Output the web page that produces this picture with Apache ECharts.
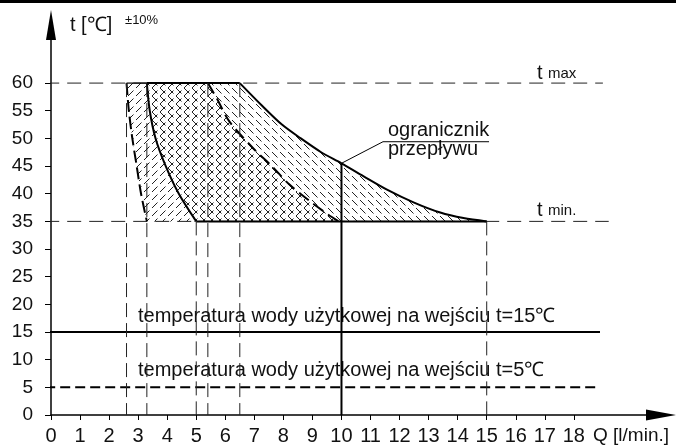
<!DOCTYPE html>
<html>
<head>
<meta charset="utf-8">
<script src="https://cdn.jsdelivr.net/npm/echarts@6/dist/echarts.min.js"></script>
<style>
html, body { margin: 0; padding: 0; background: #fff; }
#chart { width: 676px; height: 446px; }
</style>
</head>
<body>
<div id="chart"></div>
<script>
// axis ticks
var qTicks = [0, 1, 2, 3, 4, 5, 6, 7, 8, 9, 10, 11, 12, 13, 14, 15, 16, 17, 18];
var tTicks = [0, 5, 10, 15, 20, 25, 30, 35, 40, 45, 50, 55, 60];

// curves, [Q l/min, t C]
var leftDashed = [[2.6, 60], [2.68, 55], [2.8, 50], [2.95, 45], [3.1, 40], [3.3, 35]];
var innerSolid = [[3.3, 60], [3.4, 55], [3.6, 50], [3.95, 45], [4.4, 40], [5, 35]];
var rightDashed = [[5.4, 60], [5.7, 57.3], [6.15, 53], [7, 48], [7.6, 45], [8.2, 41.7], [8.9, 38.7], [9.55, 36.2], [9.9, 35]];
var outerSolid = [[6.5, 60], [7.25, 56], [7.95, 52.5], [8.6, 50], [9.3, 47.5], [10, 45.5], [10.75, 43.2], [11.55, 40.8], [12.5, 38.4], [13.4, 36.6], [14.2, 35.6], [15, 35]];

var tMax = 60, tMin = 35;
var inletHigh = 15, inletLow = 5;
var limiter = [10, 45.5];
var leader = [[10, 45.5], [11.43, 49.4], [15.08, 49.4]];
var vFromMax = [2.6, 3.3, 5.4, 6.5];
var vFromMin = [5, 15];
var hStart = -0.2, hEnd = 19;

// hatch fills
function hatch(dir) {
    var c = document.createElement('canvas');
    c.width = 8;
    c.height = 8;
    var g = c.getContext('2d');
    g.strokeStyle = '#222';
    g.lineWidth = 1;
    g.beginPath();
    if (dir > 0) {
        g.moveTo(0, 8);
        g.lineTo(5.5, 2.5);
    } else {
        g.moveTo(0, 0);
        g.lineTo(5.5, 5.5);
    }
    g.stroke();
    return { image: c, repeat: 'repeat' };
}

function polySeries(points, fill) {
    return {
        type: 'custom',
        silent: true,
        z: 1,
        data: [points[0]],
        renderItem: function (params, api) {
            return {
                type: 'polygon',
                shape: { points: points.map(function (p) { return api.coord(p); }) },
                style: { fill: fill, stroke: null }
            };
        }
    };
}

function lineSeries(points, width, type, smooth, color) {
    return {
        type: 'line',
        data: points,
        symbol: 'none',
        smooth: smooth || false,
        clip: false,
        silent: true,
        z: 3,
        lineStyle: { color: color || '#000', width: width, type: type || 'solid' }
    };
}

var regionA = leftDashed.concat(rightDashed.slice().reverse());
var regionB = innerSolid.concat(outerSolid.slice().reverse());

var series = [
    polySeries(regionA, hatch(1)),
    polySeries(regionB, hatch(-1)),
    lineSeries([[hStart, tMax], [hEnd, tMax]], 1, [14, 8], false, '#222'),
    lineSeries([[hStart, tMin], [hEnd + 0.2, tMin]], 1, [14, 8], false, '#222'),
    lineSeries([[hStart, inletHigh], [hEnd - 0.1, inletHigh]], 2),
    lineSeries([[hStart, inletLow], [hEnd - 0.1, inletLow]], 2, [10, 5]),
    lineSeries([[limiter[0], 0], limiter], 2),
    lineSeries(leader, 1),
    lineSeries(leftDashed, 2, [12, 5], 0.3),
    lineSeries(innerSolid, 2, 'solid', 0.3),
    lineSeries(rightDashed, 2, [12, 6], 0.3),
    lineSeries(outerSolid, 2, 'solid', 0.3),
    lineSeries([[leftDashed[0][0], tMax], [innerSolid[0][0], tMax]], 1.2),
    lineSeries([[innerSolid[0][0], tMax], [outerSolid[0][0], tMax]], 2),
    lineSeries([[innerSolid[innerSolid.length - 1][0], tMin], [outerSolid[outerSolid.length - 1][0], tMin]], 2)
];
vFromMax.forEach(function (q) {
    series.push(lineSeries([[q, tMax], [q, 0]], 1, [14, 6], false, '#222'));
});
vFromMin.forEach(function (q) {
    series.push(lineSeries([[q, tMin], [q, 0]], 1, [14, 6], false, '#222'));
});

var font = 'Liberation Sans, Arial, sans-serif';

var option = {
    animation: false,
    grid: { left: 51, right: 15, top: 25, bottom: 31 },
    xAxis: {
        type: 'value',
        min: 0,
        max: 21,
        axisLine: {
            show: true,
            symbol: ['none', 'triangle'],
            symbolSize: [11, 30],
            lineStyle: { color: '#000', width: 1.5 }
        },
        axisTick: { show: true, customValues: qTicks, length: 5, lineStyle: { color: '#000', width: 1 } },
        axisLabel: { customValues: qTicks, fontSize: 20, color: '#111', margin: 11, fontFamily: font },
        splitLine: { show: false }
    },
    yAxis: {
        type: 'value',
        min: 0,
        max: 70.5,
        axisLine: {
            show: true,
            symbol: ['none', 'triangle'],
            symbolSize: [10, 30],
            lineStyle: { color: '#000', width: 1.5 }
        },
        axisTick: { show: true, customValues: tTicks, length: 6, lineStyle: { color: '#000', width: 1 } },
        axisLabel: { customValues: tTicks, fontSize: 19, color: '#111', margin: 18, fontFamily: font },
        splitLine: { show: false }
    },
    graphic: [
        { type: 'rect', shape: { x: 0, y: 0, width: 676, height: 3 }, style: { fill: '#000' } },
        { type: 'text', x: 70, y: 25, style: { text: 't [℃]', fill: '#111', font: '20px ' + font, verticalAlign: 'middle' } },
        { type: 'text', x: 125, y: 20, style: { text: '±10%', fill: '#111', font: '13px ' + font, verticalAlign: 'middle' } },
        { type: 'text', x: 593, y: 436, style: { text: 'Q [l/min.]', fill: '#111', font: '19px ' + font, verticalAlign: 'middle' } },
        { type: 'text', x: 537, y: 73, style: { text: 't', fill: '#111', font: '20px ' + font, verticalAlign: 'middle' } },
        { type: 'text', x: 548, y: 74, style: { text: 'max', fill: '#111', font: '15px ' + font, verticalAlign: 'middle' } },
        { type: 'text', x: 537, y: 210, style: { text: 't', fill: '#111', font: '20px ' + font, verticalAlign: 'middle' } },
        { type: 'text', x: 548, y: 211, style: { text: 'min.', fill: '#111', font: '15px ' + font, verticalAlign: 'middle' } },
        { type: 'text', x: 388, y: 130.5, style: { text: 'ogranicznik', fill: '#111', font: '20px ' + font, verticalAlign: 'middle' } },
        { type: 'text', x: 388, y: 149.5, style: { text: 'przepływu', fill: '#111', font: '20px ' + font, verticalAlign: 'middle' } },
        { type: 'text', x: 138, y: 316.5, style: { text: 'temperatura wody użytkowej na wejściu t=15℃', fill: '#111', font: '20px ' + font, verticalAlign: 'middle' } },
        { type: 'text', x: 138, y: 370, style: { text: 'temperatura wody użytkowej na wejściu t=5℃', fill: '#111', font: '20px ' + font, verticalAlign: 'middle' } }
    ],
    series: series
};

var myChart = echarts.init(document.getElementById('chart'));
myChart.setOption(option);
</script>
</body>
</html>
